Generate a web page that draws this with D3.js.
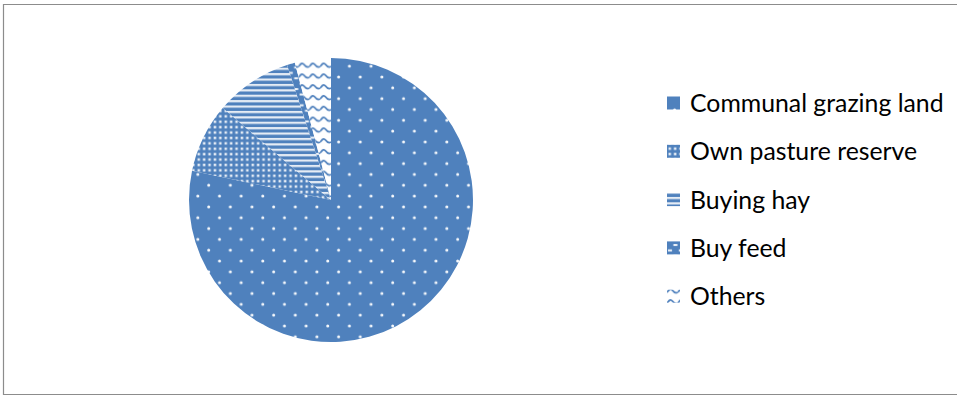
<!DOCTYPE html>
<html>
<head>
<meta charset="utf-8">
<script src="https://cdn.jsdelivr.net/npm/d3@7"></script>
<style>
  body { margin: 0; background: #fff; }
  svg { display: block; }
</style>
</head>
<body>
<svg id="chart"></svg>
<script>
let w = 957;
let h = 396;

// data (shares in %)
let categories = ["Communal grazing land", "Own pasture reserve", "Buying hay", "Buy feed", "Others"];
let shares = [78.3, 7.9, 8.8, 0.9, 4.1];
let patternIds = ["pCommunal", "pPasture", "pHay", "pFeed", "pOthers"];

let blue = "#4F81BD";

let svg = d3.select("#chart")
    .attr("width", w)
    .attr("height", h);

// frame of the chart area (right side runs off the page)
svg.append("path")
    .attr("d", `M960,4.5 H3.5 V394.5 H960`)
    .attr("fill", "none")
    .attr("stroke", "#8c8c8c")
    .attr("stroke-width", 1.2);

let defs = svg.append("defs");

// communal: sparse white dots
let p1 = defs.append("pattern").attr("id", "pCommunal")
    .attr("patternUnits", "userSpaceOnUse")
    .attr("width", 21.65).attr("height", 21.65);
p1.append("rect").attr("width", 21.65).attr("height", 21.65).attr("fill", blue);
p1.append("circle").attr("cx", 7.6).attr("cy", 6.85).attr("r", 1.5).attr("fill", "#fff").attr("opacity", 0.95);
p1.append("circle").attr("cx", 18.4).attr("cy", 17.65).attr("r", 1.5).attr("fill", "#fff").attr("opacity", 0.95);

// own pasture: dense grid of light squares
let p2 = defs.append("pattern").attr("id", "pPasture")
    .attr("patternUnits", "userSpaceOnUse")
    .attr("width", 5.4).attr("height", 5.4);
p2.append("rect").attr("width", 5.4).attr("height", 5.4).attr("fill", blue);
p2.append("rect").attr("x", 1.5).attr("y", 1.5).attr("width", 2.5).attr("height", 2.5).attr("fill", "#fff").attr("opacity", 0.85);

// buying hay: horizontal stripes
let p3 = defs.append("pattern").attr("id", "pHay")
    .attr("patternUnits", "userSpaceOnUse")
    .attr("width", 10).attr("height", 5.4);
p3.append("rect").attr("width", 10).attr("height", 5.4).attr("fill", blue);
p3.append("rect").attr("y", 2.7).attr("width", 10).attr("height", 2.2).attr("fill", "#fff").attr("opacity", 0.85);

// buy feed: small white bricks
let p4 = defs.append("pattern").attr("id", "pFeed")
    .attr("patternUnits", "userSpaceOnUse")
    .attr("width", 10.8).attr("height", 10.8);
p4.append("rect").attr("width", 10.8).attr("height", 10.8).attr("fill", blue);
p4.append("rect").attr("x", 1).attr("y", 1.5).attr("width", 4).attr("height", 2).attr("fill", "#fff").attr("opacity", 0.9);
p4.append("rect").attr("x", 6.4).attr("y", 6.9).attr("width", 4).attr("height", 2).attr("fill", "#fff").attr("opacity", 0.9);

// others: blue waves on white
let p5 = defs.append("pattern").attr("id", "pOthers")
    .attr("patternUnits", "userSpaceOnUse")
    .attr("width", 10.8).attr("height", 10.8);
p5.append("rect").attr("width", 10.8).attr("height", 10.8).attr("fill", "#fff");
p5.append("path")
    .attr("d", "M0,7 C2.7,3 4,3 5.4,5 C6.8,7 8.1,8.5 10.8,7")
    .attr("fill", "none").attr("stroke", blue).attr("stroke-width", 1.7);

// pie
let cx = 331, cy = 200, r = 142;

let pie = d3.pie().sort(null).value(d => d);
let arc = d3.arc().innerRadius(0).outerRadius(r);

svg.append("g")
    .attr("transform", `translate(${cx}, ${cy})`)
    .selectAll("path")
    .data(pie(shares))
    .join("path")
    .attr("d", arc)
    .attr("fill", (d, i) => `url(#${patternIds[i]})`);

// legend
let legend = svg.append("g")
    .attr("font-family", "Lato, 'Open Sans', sans-serif")
    .attr("font-size", 24.8)
    .selectAll("g")
    .data(categories)
    .join("g")
    .attr("transform", (d, i) => `translate(667, ${103 + i * 48.3})`);

legend.append("rect")
    .attr("x", 0)
    .attr("y", -6.5)
    .attr("width", 13)
    .attr("height", 13)
    .attr("fill", (d, i) => `url(#${patternIds[i]})`);

legend.append("text")
    .attr("x", 23)
    .attr("y", 9)
    .attr("fill", "#000")
    .text(d => d);
</script>
</body>
</html>
